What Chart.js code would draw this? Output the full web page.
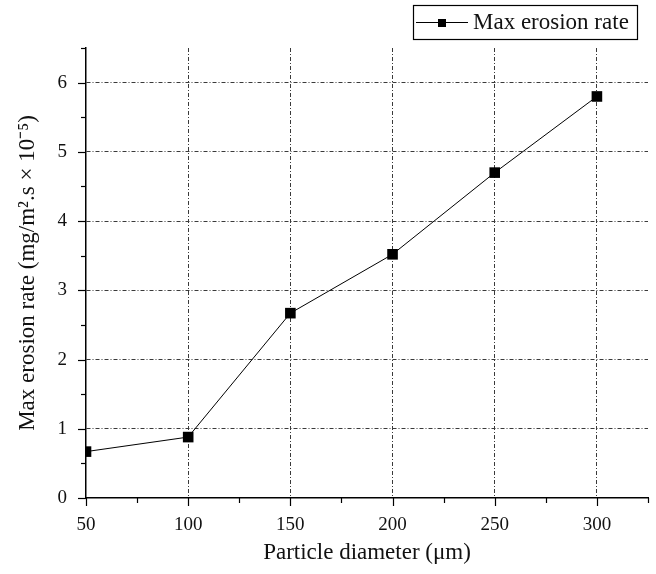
<!DOCTYPE html>
<html>
<head>
<meta charset="utf-8">
<script src="https://cdn.jsdelivr.net/npm/chart.js@4.4.1/dist/chart.umd.min.js"></script>
<style>
    html, body { margin: 0; padding: 0; background: #fff; }
    #wrap { position: relative; width: 656px; height: 574px; }
</style>
</head>
<body>
<div id="wrap"><canvas id="chart"></canvas></div>
<script>
// data
const diameters = [50, 100, 150, 200, 250, 300];
const erosionRates = [0.67, 0.88, 2.67, 3.52, 4.70, 5.80];
const xMajorTicks = [50, 100, 150, 200, 250, 300];
const yMajorTicks = [0, 1, 2, 3, 4, 5, 6];
const seriesLabel = 'Max erosion rate';
const xTitle = 'Particle diameter (μm)';
const yTitle = 'Max erosion rate (mg/m².s × 10⁻⁵)';

const FONT = "'Liberation Serif', 'Times New Roman', serif";
const INK = '#111';
const GRID = '#3a3a3a';

/**
 * Outward tick marks, long on labelled values, short between
 */
const tickMarks = {
    id: 'tickMarks',
    afterDraw(chart) {
        const ctx = chart.ctx;
        const xs = chart.scales.x;
        const ys = chart.scales.y;
        ctx.save();
        ctx.strokeStyle = '#000';
        ctx.lineWidth = 1.2;
        xs.ticks.forEach(t => {
            const px = Math.round(xs.getPixelForValue(t.value)) + 0.5;
            const len = xMajorTicks.includes(t.value) ? 8 : 5;
            ctx.beginPath();
            ctx.moveTo(px, xs.top);
            ctx.lineTo(px, xs.top + len);
            ctx.stroke();
        });
        ys.ticks.forEach(t => {
            const py = Math.round(ys.getPixelForValue(t.value)) + 0.5;
            const len = yMajorTicks.includes(t.value) ? 8 : 5;
            ctx.beginPath();
            ctx.moveTo(ys.right, py);
            ctx.lineTo(ys.right - len, py);
            ctx.stroke();
        });
        ctx.restore();
    }
};

/**
 * Boxed legend in the top right corner
 */
const boxLegend = {
    id: 'boxLegend',
    afterDraw(chart) {
        const ctx = chart.ctx;
        const ds = chart.data.datasets[0];
        ctx.save();
        ctx.strokeStyle = '#000';
        ctx.lineWidth = 1.2;
        ctx.strokeRect(413.5, 5.5, 224, 34);
        ctx.beginPath();
        ctx.moveTo(416, 22.5);
        ctx.lineTo(468, 22.5);
        ctx.stroke();
        ctx.fillStyle = '#000';
        ctx.fillRect(438, 19, 8, 8);
        ctx.font = '23px ' + FONT;
        ctx.fillStyle = INK;
        ctx.textBaseline = 'middle';
        ctx.fillText(ds.label, 473, 23);
        ctx.restore();
    }
};

const ctx = document.getElementById('chart').getContext('2d');
new Chart(ctx, {
    type: 'line',
    data: {
        datasets: [{
            label: seriesLabel,
            data: diameters.map((d, i) => ({ x: d, y: erosionRates[i] })),
            borderColor: '#000',
            borderWidth: 1,
            backgroundColor: '#000',
            pointStyle: 'rect',
            pointRadius: 7.5,
            pointHoverRadius: 7.5,
            pointBorderWidth: 0,
            tension: 0
        }]
    },
    options: {
        responsive: true,
        maintainAspectRatio: false,
        animation: false,
        layout: { padding: { top: 48, right: 8, left: 0, bottom: 0 } },
        plugins: {
            legend: { display: false },
            tooltip: { enabled: false }
        },
        scales: {
            x: {
                type: 'linear',
                min: 50,
                max: 325,
                afterFit: (s) => {
                    s.height = 76;
                    s.paddingLeft = 0;
                    s.paddingRight = 0;
                },
                ticks: {
                    stepSize: 25,
                    autoSkip: false,
                    maxRotation: 0,
                    padding: 16,
                    color: INK,
                    font: { family: FONT, size: 19 },
                    callback: (v) => xMajorTicks.includes(v) ? String(v) : ''
                },
                grid: {
                    drawTicks: false,
                    lineWidth: 1,
                    color: (c) => (c.tick && xMajorTicks.includes(c.tick.value) && c.tick.value !== 50) ? GRID : 'transparent'
                },
                border: { color: '#000', width: 1.5, dash: [4, 2, 1, 2] },
                title: {
                    display: true,
                    text: xTitle,
                    color: INK,
                    font: { family: FONT, size: 23 },
                    padding: { top: 0, bottom: 7 }
                }
            },
            y: {
                min: 0,
                max: 6.5,
                afterFit: (s) => {
                    s.width = 86;
                    s.paddingTop = 0;
                    s.paddingBottom = 0;
                },
                ticks: {
                    stepSize: 0.5,
                    autoSkip: false,
                    padding: 19,
                    color: INK,
                    font: { family: FONT, size: 19 },
                    callback: (v) => yMajorTicks.includes(v) ? String(v) : ''
                },
                grid: {
                    drawTicks: false,
                    lineWidth: 1,
                    color: (c) => (c.tick && yMajorTicks.includes(c.tick.value) && c.tick.value !== 0) ? GRID : 'transparent'
                },
                border: { color: '#000', width: 1.5, dash: [4, 2, 1, 2] },
                title: {
                    display: true,
                    text: yTitle,
                    color: INK,
                    font: { family: FONT, size: 23 },
                    padding: { top: 14, bottom: 0 }
                }
            }
        }
    },
    plugins: [tickMarks, boxLegend]
});
</script>
</body>
</html>
